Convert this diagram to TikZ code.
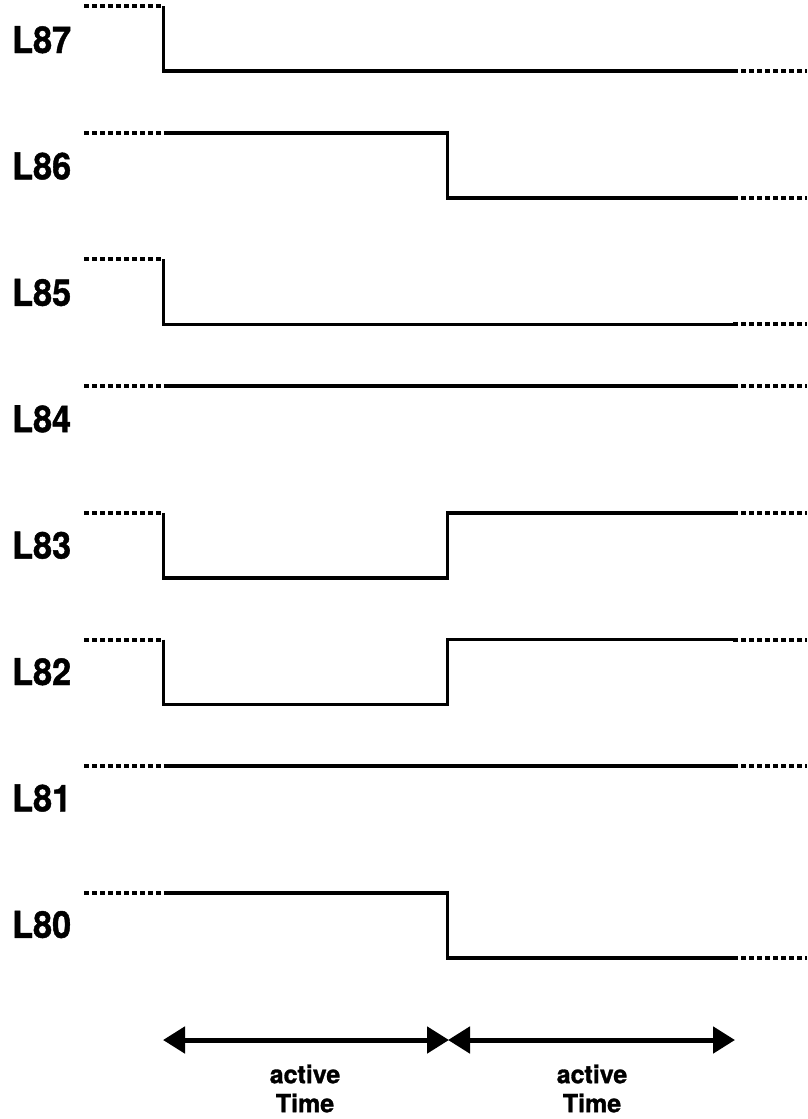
\documentclass[tikz,border=0pt]{standalone}
\usepackage{fontspec}
\setmainfont{TeX Gyre Heros}
\newfontfamily\heavy[UprightFont={* Bold},FakeBold=1.2]{TeX Gyre Heros}
\usetikzlibrary{arrows.meta}
\tikzset{
  sig/.style={line width=3.8pt, line join=miter},
  dots/.style={line width=4pt, dash pattern=on 4.5pt off 3.5pt},
  lbl/.style={anchor=base west, inner sep=0pt, xscale=0.925, font=\heavy\fontsize{37}{37}\selectfont},
  span/.style={line width=5pt, {Triangle[length=22pt,width=26pt]}-{Triangle[length=22pt,width=26pt]}},
  tlbl/.style={align=center, inner sep=0pt, font=\heavy\fontsize{25}{29}\selectfont}
}
\begin{document}
\begin{tikzpicture}[x=1pt,y=-1pt]
\useasboundingbox (0,0) rectangle (807,1119);
\def\xa{84}\def\xb{163.5}\def\xc{447.5}\def\xd{733}\def\xe{807}
% labels
\foreach \n/\i in {87/0,86/1,85/2,84/3,83/4,82/5,81/6,80/7}{
  \node[lbl] (L\n) at (12,{53+126.4*\i}) {L\n};
}
% high -> low at t1
\foreach \i in {0,2}{
  \pgfmathsetmacro\hy{6+126.7*\i}\pgfmathsetmacro\ly{71+126.7*\i}
  \draw[dots] (\xa,\hy) -- (\xb,\hy);
  \draw[sig] (\xb,\hy) -- (\xb,\ly) -- (\xd,\ly);
  \draw[dots] (\xd,\ly) -- (\xe,\ly);
}
% high -> low at t2
\foreach \i in {1,7}{
  \pgfmathsetmacro\hy{6+126.7*\i}\pgfmathsetmacro\ly{71+126.7*\i}
  \draw[dots] (\xa,\hy) -- (\xb,\hy);
  \draw[sig] (\xb,\hy) -- (\xc,\hy) -- (\xc,\ly) -- (\xd,\ly);
  \draw[dots] (\xd,\ly) -- (\xe,\ly);
}
% constant high
\foreach \i in {3,6}{
  \pgfmathsetmacro\hy{6+126.7*\i}
  \draw[dots] (\xa,\hy) -- (\xb,\hy);
  \draw[sig] (\xb,\hy) -- (\xd,\hy);
  \draw[dots] (\xd,\hy) -- (\xe,\hy);
}
% low pulse
\foreach \i in {4,5}{
  \pgfmathsetmacro\hy{6+126.7*\i}\pgfmathsetmacro\ly{71+126.7*\i}
  \draw[dots] (\xa,\hy) -- (\xb,\hy);
  \draw[sig] (\xb,\hy) -- (\xb,\ly) -- (\xc,\ly) -- (\xc,\hy) -- (\xd,\hy);
  \draw[dots] (\xd,\hy) -- (\xe,\hy);
}
% time spans
\coordinate (a0) at (163,1040);
\coordinate (a1) at (449,1040);
\coordinate (a2) at (448,1040);
\coordinate (a3) at (735,1040);
\draw[span] (a0) -- (a1);
\draw[span] (a2) -- (a3);
\node[tlbl] (t1) at (305,1088.5) {active\\Time};
\node[tlbl] (t2) at (592,1088.5) {active\\Time};
\end{tikzpicture}
\end{document}
